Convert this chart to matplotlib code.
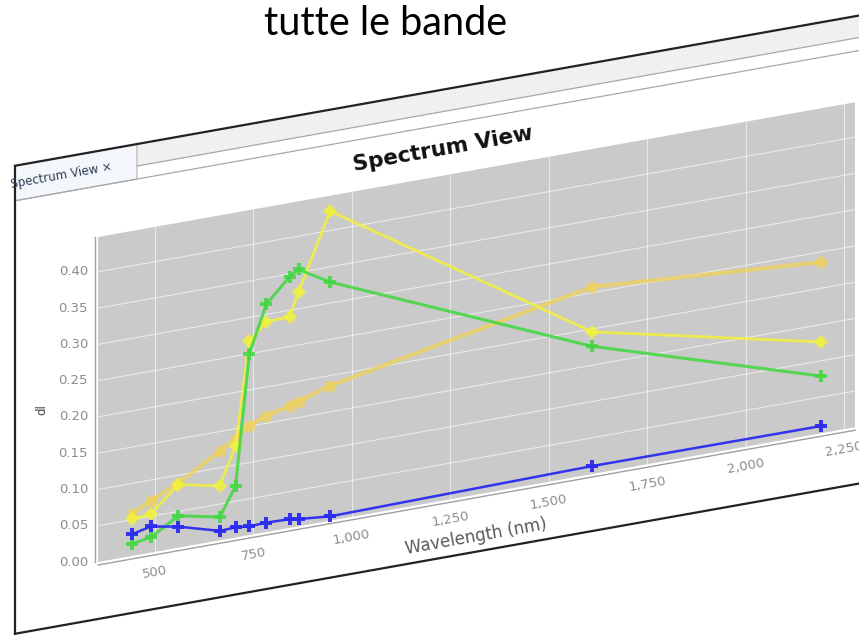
import numpy as np
import matplotlib.pyplot as plt
from matplotlib.transforms import Affine2D
from matplotlib.patches import Rectangle, Polygon
from matplotlib.lines import Line2D

# Sentinel-2 band centres (nm) and the four spectra
wavelength = [443, 490, 560, 665, 705, 740, 783, 842, 865, 945, 1610, 2190]
blue = [0.030, 0.036, 0.029, 0.013, 0.014, 0.012, 0.013, 0.012, 0.010, 0.006, 0.011, 0.010]
green = [0.017, 0.021, 0.044, 0.032, 0.071, 0.250, 0.314, 0.346, 0.354, 0.329, 0.176, 0.079]
yellow = [0.051, 0.053, 0.087, 0.075, 0.126, 0.267, 0.290, 0.291, 0.323, 0.427, 0.196, 0.126]
orange = [0.058, 0.071, 0.089, 0.123, 0.136, 0.151, 0.160, 0.168, 0.172, 0.186, 0.258, 0.236]

x_ticks = [500, 750, 1000, 1250, 1500, 1750, 2000, 2250]
y_ticks = [0.00, 0.05, 0.10, 0.15, 0.20, 0.25, 0.30, 0.35, 0.40]

W, H = 859, 635
k = 0.178                      # vertical shear of the photographed screen
ang = np.degrees(np.arctan(k))
px0 = 98

fig = plt.figure(figsize=(W / 100, H / 100), dpi=100)
shear = Affine2D().translate(-px0, 0).skew(0, np.arctan(k)).translate(px0, 0)
panel = Affine2D().scale(1, -1).translate(0, H) + shear   # pixel coords from top, unsheared


def off(dx, dy):
    return Affine2D().translate(dx, dy)


# window frame / tab strip
fig.add_artist(Polygon([(15, 151), (900, 151), (900, 173), (15, 173)], closed=True,
                       transform=panel, facecolor='#f0f0f0', edgecolor='none'))
fig.add_artist(Polygon([(15, 151), (137, 151), (137, 186), (15, 186)], closed=True,
                       transform=panel, facecolor='#f3f7fb', edgecolor='#b0b0b0', lw=0.8))
for yy in (173, 186):
    fig.add_artist(Line2D([137 if yy == 173 else 15, 900], [yy, yy], transform=panel,
                          color='#a8a8a8', lw=0.9))
fig.add_artist(Line2D([15, 900], [151, 151], transform=panel, color='#222222', lw=1.6))
fig.add_artist(Line2D([15, 900], [619, 619], transform=panel, color='#222222', lw=1.6))
fig.add_artist(Line2D([15, 15], [151, 619], transform=panel, color='#222222', lw=1.6))
fig.text(11, 169, 'Spectrum View \u00d7', transform=panel, rotation=ang, rotation_mode='anchor',
         ha='left', va='center', fontsize=8.5, color='#2d3d55')

fig.text(443, 211, 'Spectrum View', transform=panel, rotation=ang, rotation_mode='anchor',
         ha='center', va='center', fontsize=15.5, fontweight='bold', color='#111111')
fig.text(42, 400, 'dl', transform=panel, rotation=90, rotation_mode='anchor',
         ha='center', va='center', fontsize=8.5, color='#444444')

fig.text(386 / W, 1 - 35 / H, 'tutte le bande', ha='center', va='baseline',
         fontsize=28.5, family=['Lato', 'DejaVu Sans'], color='black')

# chart
ax = fig.add_axes([98 / W, (H - 562) / H, (855 - 98) / W, (562 - 237) / H])
ax.set_xlim(356, 2277)
ax.set_ylim(0, 0.448)
ax.axis('off')
td = ax.transData + shear
ta = ax.transAxes + shear
xmin, xmax = ax.get_xlim()
ymin, ymax = ax.get_ylim()

ax.add_patch(Rectangle((0, 0), 1, 1, transform=ta, facecolor='#cacaca',
                       edgecolor='none', clip_on=False, zorder=0))
for y in y_ticks[1:]:
    ax.plot([xmin, xmax], [y, y], color='white', lw=0.8, alpha=0.6,
            transform=td, clip_on=False, zorder=1)
for x in x_ticks:
    ax.plot([x, x], [ymin, ymax], color='white', lw=0.8, alpha=0.6,
            transform=td, clip_on=False, zorder=1)
ax.plot([xmin, xmin], [ymin, ymax], color='#a0a0a0', lw=1,
        transform=td + off(-3, 0), clip_on=False)
ax.plot([xmin, xmax], [ymin, ymin], color='#a0a0a0', lw=1,
        transform=td + off(0, -3), clip_on=False)

for y in y_ticks:
    ax.text(xmin, y, f'{y:.2f}', transform=td + off(-10, 0), ha='right', va='center',
            fontsize=9.5, color='#8c8c8c')
for x in x_ticks:
    ax.text(x, ymin, f'{x:,}', transform=td + off(0, -20), ha='center', va='center',
            rotation=ang, rotation_mode='anchor', fontsize=9.5, color='#8c8c8c')
ax.text((xmin + xmax) / 2, ymin, 'Wavelength (nm)', transform=td + off(0, -42),
        ha='center', va='center', rotation=ang, rotation_mode='anchor',
        fontsize=12, color='#5a5a5a')

series = [
    (orange, '#efd35a', 'o', 8.5, 3.0, 0.75),
    (yellow, '#f2f23c', 'D', 7.5, 2.0, 0.85),
    (green, '#3fd83f', 'P', 9, 2.2, 0.85),
    (blue, '#2b2bf0', 'P', 9, 1.8, 0.95),
]
for vals, col, mk, ms, lw, a in series:
    ax.plot(wavelength, vals, color=col, marker=mk, markersize=ms, lw=lw, alpha=a,
            markeredgewidth=0, transform=td, clip_on=False, zorder=3)

fig.savefig('out.png', dpi=100)
